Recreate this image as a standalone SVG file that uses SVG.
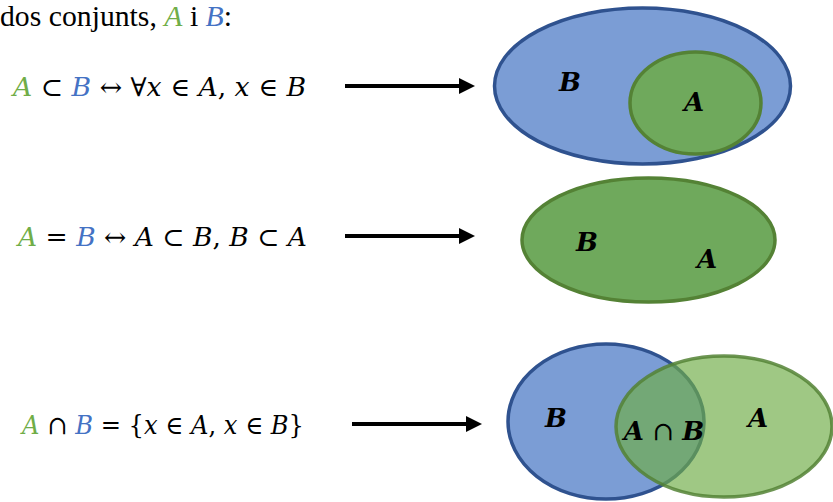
<svg xmlns="http://www.w3.org/2000/svg" width="833" height="502" viewBox="0 0 833 502">
<style>
.txt{font-family:"Liberation Serif","Times New Roman",serif;fill:#000}
.m{font-family:"DejaVu Serif","Liberation Serif",serif;font-size:26px;fill:#000}
.v{font-style:italic}
.g{fill:#70AD47}
.b{fill:#4472C4}
.lbl{font-family:"DejaVu Serif","Liberation Serif",serif;font-size:26px;font-weight:bold;font-style:italic;fill:#000;text-anchor:middle}
.blue{fill:#7B9DD5;stroke:#2F528F;stroke-width:3.5}
.green{fill:#6FA95C;stroke:#548235;stroke-width:3.5}
.lgreen{fill:#70AD47;fill-opacity:0.67;stroke:#548235;stroke-opacity:0.85;stroke-width:3.5}
.arr{stroke:#000;stroke-width:4;fill:none}
</style>
<defs>
<marker id="ah" markerWidth="4" markerHeight="4" refX="0" refY="2" orient="auto" markerUnits="strokeWidth" viewBox="0 0 4 4">
<path d="M0,0 L4,2 L0,4 Z" fill="#000"/>
</marker>
</defs>
<g id="heading">
<text class="txt" x="0" y="26" font-size="29" textLength="232" lengthAdjust="spacingAndGlyphs">dos conjunts, <tspan class="v g">A</tspan> i <tspan class="v b">B</tspan>:</text>
</g>
<g id="formula1">
<text class="m" x="13" y="96" textLength="293" lengthAdjust="spacingAndGlyphs"><tspan class="v g">A</tspan> ⊂ <tspan class="v b">B</tspan>  ↔ ∀<tspan class="v">x</tspan> ∈ <tspan class="v">A</tspan>, <tspan class="v">x</tspan> ∈ <tspan class="v">B</tspan></text>
</g>
<g id="formula2">
<text class="m" x="18" y="246" textLength="289" lengthAdjust="spacingAndGlyphs"><tspan class="v g">A</tspan> = <tspan class="v b">B</tspan>  ↔ <tspan class="v">A</tspan> ⊂ <tspan class="v">B</tspan>, <tspan class="v">B</tspan> ⊂ <tspan class="v">A</tspan></text>
</g>
<g id="formula3">
<text class="m" x="22" y="434" textLength="282" lengthAdjust="spacingAndGlyphs"><tspan class="v g">A</tspan> ∩ <tspan class="v b">B</tspan> = {<tspan class="v">x</tspan> ∈ <tspan class="v">A</tspan>, <tspan class="v">x</tspan> ∈ <tspan class="v">B</tspan>}</text>
</g>
<g id="connectors">
<line class="arr" x1="345" y1="86" x2="459" y2="86" marker-end="url(#ah)"/>
<line class="arr" x1="345" y1="236" x2="459" y2="236" marker-end="url(#ah)"/>
<line class="arr" x1="352" y1="424" x2="466" y2="424" marker-end="url(#ah)"/>
</g>
<g id="venn-subset">
<ellipse class="blue" cx="642.5" cy="86" rx="148" ry="78"/>
<ellipse class="green" cx="695.5" cy="103" rx="65.5" ry="51"/>
<text class="lbl" x="570" y="91">B</text>
<text class="lbl" x="694" y="111">A</text>
</g>
<g id="venn-equal">
<ellipse class="green" cx="648.5" cy="240" rx="126.5" ry="62"/>
<text class="lbl" x="587" y="251">B</text>
<text class="lbl" x="707" y="268">A</text>
</g>
<g id="venn-intersection">
<ellipse class="blue" cx="606" cy="421.5" rx="98" ry="77.5"/>
<ellipse class="lgreen" cx="724" cy="426.5" rx="108" ry="70.5"/>
<text class="lbl" x="556" y="427">B</text>
<text class="lbl" x="664" y="440"><tspan>A</tspan><tspan font-weight="normal" font-style="normal"> ∩ </tspan><tspan>B</tspan></text>
<text class="lbl" x="758" y="427">A</text>
</g>
</svg>
